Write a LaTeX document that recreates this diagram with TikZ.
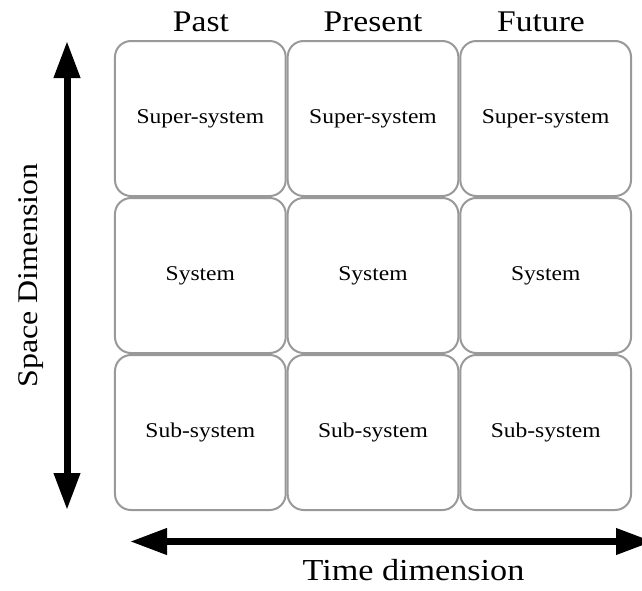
\documentclass[tikz,border=0pt]{standalone}
\usepackage{fontspec}
\setmainfont[FakeStretch=1.12]{Liberation Serif}
\usetikzlibrary{arrows.meta}

\tikzset{
  cell/.style={draw=black!40, line width=2pt, rounded corners=16pt,
    minimum width=170.7pt, minimum height=155pt, inner sep=0pt,
    font=\fontsize{21pt}{24pt}\selectfont},
  heading/.style={anchor=base, font=\fontsize{30pt}{34pt}\selectfont},
  axis/.style={line width=7pt, {Triangle[length=37pt,width=25pt]}-{Triangle[length=37pt,width=25pt]}},
}

\begin{document}
\begin{tikzpicture}[x=1pt, y=-1pt]
  \useasboundingbox (0,0) rectangle (642,590);

  % 3 x 3 grid of rounded cells
  \foreach \c/\cx in {0/200.33, 1/373, 2/545.67}{
    \node[cell] (sup\c) at (\cx, 118.5) {Super-system};
    \node[cell] (sys\c) at (\cx, 275.5) {System};
    \node[cell] (sub\c) at (\cx, 432.5) {Sub-system};
  }

  % column headings
  \node[heading] (past) at (201, 31) {Past};
  \node[heading] (present) at (373, 31) {Present};
  \node[heading] (future) at (541, 31) {Future};

  % axes
  \coordinate (vtop) at (67, 41);
  \coordinate (vbot) at (67, 510);
  \draw[axis] (vtop) -- (vbot);
  \coordinate (hleft) at (130, 541.5);
  \coordinate (hright) at (653, 541.5);
  \draw[axis] (hleft) -- (hright);

  \node[heading, rotate=90, font=\fontsize{28.5pt}{32pt}\selectfont] (space) at (37, 275.5) {Space Dimension};
  \node[heading, font=\fontsize{30.5pt}{34pt}\selectfont] (time) at (413.5, 580) {Time dimension};
\end{tikzpicture}
\end{document}
